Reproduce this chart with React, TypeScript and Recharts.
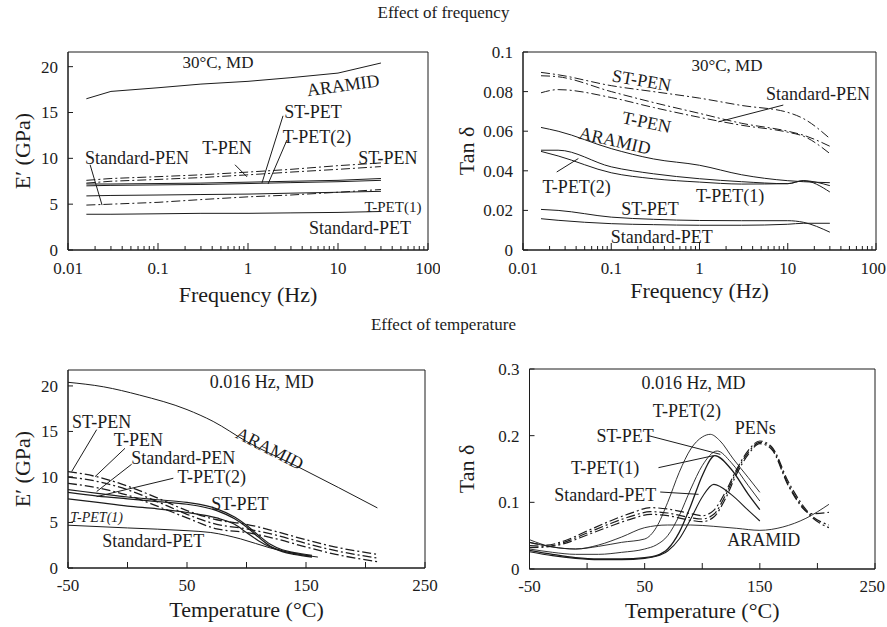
import React from 'react';
import { LineChart, Line, XAxis, YAxis, ReferenceDot, ReferenceLine, ReferenceArea } from 'recharts';

const FONT = 'Liberation Serif';
const INK = '#1c1c1c';
const DASHDOT = '9 3 2 3';
const TICK_SIZE = 17;
const NOTE_SIZE = 18;
const TITLE_SIZE = 22;

// ---------- Panel A: E' vs frequency (30°C, MD) ----------
const freqA = [0.016, 0.03, 0.1, 0.3, 1, 3, 10, 30];
const aramidA = [16.5, 17.3, 17.7, 18.1, 18.4, 18.8, 19.3, 20.4];
const stPenA = [7.6, 7.8, 8.0, 8.2, 8.5, 8.8, 9.2, 9.5];
const tPenA = [7.3, 7.5, 7.7, 7.9, 8.2, 8.5, 8.8, 9.1];
const stPetA = [7.2, 7.2, 7.25, 7.3, 7.4, 7.5, 7.6, 7.8];
const tPet2A = [7.0, 7.05, 7.1, 7.15, 7.25, 7.35, 7.45, 7.6];
const tPet1A = [5.9, 5.95, 6.0, 6.05, 6.1, 6.2, 6.3, 6.4];
const stdPenA = [4.9, 5.0, 5.2, 5.5, 5.8, 6.0, 6.3, 6.6];
const stdPetA = [3.9, 3.9, 3.95, 4.0, 4.0, 4.05, 4.1, 4.2];

// ---------- Panel B: tan δ vs frequency (30°C, MD) ----------
const freqB = [0.016, 0.025, 0.1, 0.3, 1, 3, 10, 15, 30];
const stPenB = [0.0897, 0.0885, 0.083, 0.08, 0.0767, 0.073, 0.0695, 0.0664, 0.0563];
const stdPenB = [0.088, 0.0875, 0.08, 0.0745, 0.069, 0.064, 0.06, 0.058, 0.0524];
const tPenB = [0.0794, 0.081, 0.077, 0.072, 0.067, 0.063, 0.0595, 0.0575, 0.0487];
const aramidB = [0.0619, 0.06, 0.0512, 0.046, 0.0428, 0.038, 0.035, 0.0345, 0.034];
const tPet2B = [0.0504, 0.0504, 0.042, 0.0385, 0.036, 0.0345, 0.0335, 0.035, 0.0325];
const tPet1B = [0.0498, 0.0475, 0.039, 0.036, 0.0343, 0.0333, 0.0335, 0.035, 0.0293];
const stPetB = [0.0205, 0.02, 0.0166, 0.0155, 0.0149, 0.0148, 0.0148, 0.014, 0.009];
const stdPetB = [0.0158, 0.015, 0.0133, 0.0128, 0.0125, 0.0125, 0.013, 0.0135, 0.0135];

// ---------- Panel C: E' vs temperature (0.016 Hz, MD) ----------
const tAramidC = [-50, -20, 10, 50, 72, 100, 145, 210];
const aramidC = [20.4, 19.9, 19.0, 17.4, 16.1, 13.9, 11.0, 6.6];
const tPetC = [-50, -25, 0, 25, 50, 75, 90, 100, 110, 120, 130, 140, 155];
const stPetC = [8.6, 8.2, 7.8, 7.5, 7.2, 6.5, 5.6, 4.7, 3.6, 2.6, 2.0, 1.7, 1.4];
const tPet2C = [8.3, 7.9, 7.6, 7.3, 7.0, 6.3, 5.4, 4.5, 3.4, 2.4, 1.9, 1.6, 1.3];
const tPet1C = [7.6, 7.2, 6.8, 6.5, 6.1, 5.5, 4.8, 3.9, 3.0, 2.3, 1.8, 1.5, 1.2];
const tStdPetC = [-50, 0, 50, 70, 95, 120, 140, 160];
const stdPetC = [4.7, 4.4, 4.1, 3.9, 3.2, 2.2, 1.6, 1.2];
const tPenC = [-50, -25, 0, 25, 50, 75, 100, 125, 150, 175, 210];
const stPenC = [10.6, 10.0, 9.0, 7.7, 6.3, 5.3, 4.8, 4.0, 3.1, 2.3, 1.5];
const tPenSeriesC = [10.0, 9.5, 8.6, 7.3, 5.9, 4.8, 4.3, 3.6, 2.7, 1.9, 1.1];
const stdPenC = [9.3, 8.8, 8.0, 6.8, 5.5, 4.3, 3.9, 3.2, 2.3, 1.5, 0.7];

// ---------- Panel D: tan δ vs temperature (0.016 Hz, MD) ----------
const tAramidD = [-50, -30, -10, 10, 30, 50, 70, 90, 110, 130, 150, 170, 190, 210];
const aramidD = [0.044, 0.033, 0.03, 0.036, 0.048, 0.062, 0.066, 0.066, 0.064, 0.061, 0.058, 0.063, 0.076, 0.097];
const tTPet2D = [-50, -30, -10, 10, 30, 50, 60, 70, 80, 90, 100, 107, 115, 127, 140, 150];
const tPet2D = [0.04, 0.033, 0.03, 0.034, 0.04, 0.045, 0.062, 0.1, 0.145, 0.18, 0.198, 0.202, 0.193, 0.165, 0.137, 0.115];
const tStPetD = [-50, -30, -10, 10, 30, 50, 60, 70, 80, 90, 100, 113, 125, 140, 150];
const stPetD = [0.03, 0.025, 0.022, 0.022, 0.025, 0.03, 0.036, 0.05, 0.08, 0.12, 0.155, 0.177, 0.16, 0.125, 0.102];
const tTPet1D = [-50, -30, -10, 10, 30, 50, 60, 70, 80, 90, 100, 111, 125, 140, 150];
const tPet1D = [0.028, 0.022, 0.017, 0.015, 0.015, 0.017, 0.02, 0.03, 0.055, 0.095, 0.14, 0.17, 0.15, 0.112, 0.089];
const tStdPetD = [-50, -30, -10, 10, 30, 50, 60, 70, 80, 90, 100, 110, 125, 140, 150];
const stdPetD = [0.026, 0.02, 0.016, 0.014, 0.014, 0.016, 0.019, 0.027, 0.045, 0.075, 0.108, 0.127, 0.112, 0.088, 0.072];
const tPenD = [-50, -35, -20, 0, 20, 40, 55, 70, 90, 100, 110, 120, 130, 140, 150, 160, 175, 195, 210];
const stPenD = [0.04, 0.036, 0.042, 0.057, 0.072, 0.085, 0.092, 0.09, 0.083, 0.08, 0.088, 0.115, 0.15, 0.178, 0.192, 0.184, 0.13, 0.08, 0.066];
const tPenSeriesD = [0.035, 0.034, 0.04, 0.054, 0.068, 0.08, 0.086, 0.084, 0.077, 0.075, 0.082, 0.11, 0.147, 0.175, 0.19, 0.182, 0.126, 0.078, 0.062];
const stdPenD = [0.032, 0.033, 0.038, 0.051, 0.064, 0.076, 0.082, 0.08, 0.073, 0.071, 0.078, 0.105, 0.143, 0.172, 0.188, 0.18, 0.124, 0.083, 0.085];

// ---------- Axis ticks ----------
const freqDecades = [0.01, 0.1, 1, 10];
const freqMultipliers = [1, 2, 3, 4, 5, 6, 7, 8, 9];
const freqTicks = [...freqDecades.flatMap((d) => freqMultipliers.map((m) => +(d * m).toPrecision(3))), 100];
const freqMajor = [0.01, 0.1, 1, 10, 100];
const freqLabels = ['0.01', '0.1', '1', '10', '100'];
const modulusTicks = [0, 5, 10, 15, 20];
const tanFreqTicks = [0, 0.02, 0.04, 0.06, 0.08, 0.1];
const tanFreqLabels = ['0', '0.02', '0.04', '0.06', '0.08', '0.1'];
const tempTicks = [-50, 0, 50, 100, 150, 200, 250];
const tempLabels = ['-50', '', '50', '', '150', '', '250'];
const tanTempTicks = [0, 0.1, 0.2, 0.3];
const tanTempLabels = ['0', '0.1', '0.2', '0.3'];

// ---------- Annotations (in data units) ----------
type Note = { text: string; x: number; y: number; angle?: number; size?: number; italic?: boolean };
type Leader = { x1: number; y1: number; x2: number; y2: number };

const notesA: Note[] = [
  { text: '30°C, MD', x: 0.464, y: 20.5, size: 17 },
  { text: 'ARAMID', x: 11.4, y: 18.0, angle: -8 },
  { text: 'ST-PET', x: 5.27, y: 15.1 },
  { text: 'T-PET(2)', x: 5.84, y: 12.35 },
  { text: 'T-PEN', x: 0.584, y: 11.15 },
  { text: 'ST-PEN', x: 35.9, y: 10.05 },
  { text: 'Standard-PEN', x: 0.0584, y: 10.05 },
  { text: 'T-PET(1)', x: 40.8, y: 4.7, size: 15 },
  { text: 'Standard-PET', x: 17.6, y: 2.4 },
];
const leadersA: Leader[] = [
  { x1: 0.0176, y1: 9.3, x2: 0.0239, y2: 4.9 },
  { x1: 0.717, y1: 9.3, x2: 0.975, y2: 7.98 },
  { x1: 2.45, y1: 14.64, x2: 1.43, y2: 7.32 },
  { x1: 2.71, y1: 12.0, x2: 1.67, y2: 7.2 },
];
const notesB: Note[] = [
  { text: '30°C, MD', x: 2.05, y: 0.0934, size: 17 },
  { text: 'ST-PEN', x: 0.221, y: 0.0858, angle: 10 },
  { text: 'Standard-PEN', x: 22, y: 0.0791 },
  { text: 'T-PEN', x: 0.252, y: 0.0647, angle: 12 },
  { text: 'ARAMID', x: 0.11, y: 0.0554, angle: 13 },
  { text: 'T-PET(2)', x: 0.0406, y: 0.0318 },
  { text: 'T-PET(1)', x: 2.22, y: 0.0276 },
  { text: 'ST-PET', x: 0.275, y: 0.0209 },
  { text: 'Standard-PET', x: 0.373, y: 0.0065 },
];
const leadersB: Leader[] = [
  { x1: 8.9, y1: 0.0732, x2: 1.63, y2: 0.0647 },
  { x1: 0.0241, y1: 0.0394, x2: 0.0424, y2: 0.0462 },
];
const notesC: Note[] = [
  { text: '0.016 Hz, MD', x: 112.8, y: 20.5 },
  { text: 'ARAMID', x: 119.7, y: 13.15, angle: 27 },
  { text: 'ST-PEN', x: -21.7, y: 16.1 },
  { text: 'T-PEN', x: 9.1, y: 14.07 },
  { text: 'Standard-PEN', x: 46.9, y: 12.16 },
  { text: 'T-PET(2)', x: 70.8, y: 10.0 },
  { text: 'ST-PET', x: 94.5, y: 7.1 },
  { text: 'T-PET(1)', x: -25.9, y: 5.64, size: 14, italic: true },
  { text: 'Standard-PET', x: 21.7, y: 3.0 },
];
const leadersC: Leader[] = [
  { x1: -25.9, y1: 15.2, x2: -46.9, y2: 10.6 },
  { x1: -2.1, y1: 13.15, x2: -27.3, y2: 10.03 },
  { x1: 3.5, y1: 11.4, x2: -25.9, y2: 8.4 },
  { x1: 38.5, y1: 9.86, x2: -25.9, y2: 7.84 },
];
const notesD: Note[] = [
  { text: '0.016 Hz, MD', x: 92.4, y: 0.28 },
  { text: 'T-PET(2)', x: 86.7, y: 0.237 },
  { text: 'PENs', x: 146, y: 0.212 },
  { text: 'ST-PET', x: 33, y: 0.2 },
  { text: 'T-PET(1)', x: 15.7, y: 0.152 },
  { text: 'Standard-PET', x: 15.7, y: 0.112 },
  { text: 'ARAMID', x: 153.3, y: 0.044 },
];
const leadersD: Leader[] = [
  { x1: 53.3, y1: 0.2, x2: 115.7, y2: 0.172 },
  { x1: 62, y1: 0.152, x2: 109.8, y2: 0.17 },
  { x1: 63.5, y1: 0.1155, x2: 96.8, y2: 0.112 },
];

// ---------- helpers ----------
const pts = (xs: number[], ys: number[]) => xs.map((x, i) => ({ x, y: ys[i] }));

const labelFor = (value: number, ticks: number[], labels: string[]) => {
  const i = ticks.findIndex((t) => Math.abs(t - value) < 1e-9);
  return i >= 0 ? labels[i] : '';
};

type TProps = { x: number; y: number; size: number; anchor?: 'start' | 'middle' | 'end'; italic?: boolean; transform?: string; dy?: string; children: React.ReactNode };
const T = ({ x, y, size, anchor = 'middle', italic, transform, dy, children }: TProps) => (
  <text
    x={x}
    y={y}
    dy={dy}
    textAnchor={anchor}
    fontFamily={FONT}
    fontSize={size}
    fontStyle={italic ? 'italic' : 'normal'}
    fill={INK}
    stroke="none"
    transform={transform}
  >
    {children}
  </text>
);

// lastAtEdge: the final label is right-aligned so it stays inside the page
const makeXTick = (major: number[], labels: string[], majorLen: number, minorLen: number, gap: number, lastAtEdge = false) =>
  (props: any) => {
    const { x, y, payload } = props;
    const lab = labelFor(payload.value, major, labels);
    const isMajor = major.some((t) => Math.abs(t - payload.value) < 1e-9);
    const isLast = Math.abs(payload.value - major[major.length - 1]) < 1e-9;
    const edge = lastAtEdge && isLast;
    return (
      <g>
        <line x1={x} x2={x} y1={y} y2={y - (isMajor ? majorLen : minorLen)} stroke={INK} strokeWidth={1} />
        {lab && (
          <T x={edge ? x + 10 : x} y={y + gap} dy="0.35em" size={TICK_SIZE} anchor={edge ? 'end' : 'middle'}>
            {lab}
          </T>
        )}
      </g>
    );
  };

const makeYTick = (fmt: (v: number) => string) => (props: any) => {
  const { x, y, payload } = props;
  return (
    <g>
      <line x1={x} x2={x + 5} y1={y} y2={y} stroke={INK} strokeWidth={1} />
      <T x={x - 10} y={y} dy="0.35em" anchor="end" size={TICK_SIZE}>{fmt(payload.value)}</T>
    </g>
  );
};

const xTitle = (text: string, dy: number) => (props: any) => {
  const vb = props.viewBox || props;
  return <T x={vb.x + vb.width / 2} y={vb.y + dy} size={TITLE_SIZE}>{text}</T>;
};

const yTitle = (text: string, off: number) => (props: any) => {
  const vb = props.viewBox || props;
  const cx = vb.x + off;
  const cy = vb.y + vb.height / 2;
  return <T x={cx} y={cy} dy="0.35em" size={TITLE_SIZE} transform={`rotate(-90 ${cx} ${cy})`}>{text}</T>;
};

const renderNotes = (notes: Note[]) =>
  notes.map((n, i) => (
    <ReferenceDot
      key={`n${i}`}
      x={n.x}
      y={n.y}
      r={0}
      ifOverflow="visible"
      shape={(p: any) => (
        <T x={p.cx} y={p.cy} dy="0.35em" size={n.size ?? NOTE_SIZE} italic={n.italic}
          transform={n.angle ? `rotate(${n.angle} ${p.cx} ${p.cy})` : undefined}>
          {n.text}
        </T>
      )}
    />
  ));

const renderLeaders = (leaders: Leader[]) =>
  leaders.map((l, i) => (
    <ReferenceLine
      key={`l${i}`}
      segment={[{ x: l.x1, y: l.y1 }, { x: l.x2, y: l.y2 }]}
      stroke={INK}
      strokeWidth={1}
      ifOverflow="visible"
    />
  ));

const series = (data: { x: number; y: number }[], dashed: boolean, key: string, curve: 'linear' | 'monotone', width = 1) => (
  <Line
    key={key}
    data={data}
    dataKey="y"
    type={curve}
    stroke={INK}
    strokeWidth={width}
    strokeDasharray={dashed ? DASHDOT : undefined}
    dot={false}
    activeDot={false}
    isAnimationActive={false}
  />
);

const logTickLeft = makeXTick(freqMajor, freqLabels, 7, 4, 18);
const logTickRight = makeXTick(freqMajor, freqLabels, 7, 4, 18, true);
const tempTickLeft = makeXTick(tempTicks, tempLabels, 6, 6, 17);
const tempTickRight = makeXTick(tempTicks, tempLabels, 6, 6, 17, true);

function PanelA() {
  return (
    <LineChart width={440} height={280} margin={{ top: 12, right: 12, left: 8, bottom: 10 }}>
      <XAxis dataKey="x" type="number" scale="log" domain={[0.01, 100]} allowDataOverflow ticks={freqTicks} interval={0}
        tick={logTickLeft} tickSize={0} tickMargin={0} tickLine={false} axisLine={{ stroke: INK }} height={60}
        label={xTitle('Frequency (Hz)', 52)} />
      <YAxis type="number" domain={[0, 21.6]} allowDataOverflow ticks={modulusTicks} interval={0}
        tick={makeYTick((v) => String(v))} tickSize={0} tickMargin={0} tickLine={false} axisLine={{ stroke: INK }} width={60}
        label={yTitle('E′ (GPa)', 14)} />
      <ReferenceArea x1={0.01} x2={100} y1={0} y2={21.6} fill="none" stroke={INK} strokeWidth={1} ifOverflow="visible" />
      {series(pts(freqA, aramidA), false, 'aramid', 'linear')}
      {series(pts(freqA, stPenA), true, 'stpen', 'linear')}
      {series(pts(freqA, tPenA), true, 'tpen', 'linear')}
      {series(pts(freqA, stPetA), false, 'stpet', 'linear')}
      {series(pts(freqA, tPet2A), false, 'tpet2', 'linear')}
      {series(pts(freqA, tPet1A), false, 'tpet1', 'linear')}
      {series(pts(freqA, stdPenA), true, 'stdpen', 'linear')}
      {series(pts(freqA, stdPetA), false, 'stdpet', 'linear')}
      {renderLeaders(leadersA)}
      {renderNotes(notesA)}
    </LineChart>
  );
}

function PanelB() {
  return (
    <LineChart width={440} height={280} margin={{ top: 12, right: 11, left: 8, bottom: 10 }}>
      <XAxis dataKey="x" type="number" scale="log" domain={[0.01, 100]} allowDataOverflow ticks={freqTicks} interval={0}
        tick={logTickRight} tickSize={0} tickMargin={0} tickLine={false} axisLine={{ stroke: INK }} height={60}
        label={xTitle('Frequency (Hz)', 48)} />
      <YAxis type="number" domain={[0, 0.1]} allowDataOverflow ticks={tanFreqTicks} interval={0}
        tick={makeYTick((v) => labelFor(v, tanFreqTicks, tanFreqLabels))} tickSize={0} tickMargin={0} tickLine={false}
        axisLine={{ stroke: INK }} width={68} label={yTitle('Tan δ', 11)} />
      <ReferenceArea x1={0.01} x2={100} y1={0} y2={0.1} fill="none" stroke={INK} strokeWidth={1} ifOverflow="visible" />
      {series(pts(freqB, stPenB), true, 'stpen', 'monotone')}
      {series(pts(freqB, stdPenB), true, 'stdpen', 'monotone')}
      {series(pts(freqB, tPenB), true, 'tpen', 'monotone')}
      {series(pts(freqB, aramidB), false, 'aramid', 'monotone')}
      {series(pts(freqB, tPet2B), false, 'tpet2', 'monotone')}
      {series(pts(freqB, tPet1B), false, 'tpet1', 'monotone')}
      {series(pts(freqB, stPetB), false, 'stpet', 'monotone')}
      {series(pts(freqB, stdPetB), false, 'stdpet', 'monotone')}
      {renderLeaders(leadersB)}
      {renderNotes(notesB)}
    </LineChart>
  );
}

function PanelC() {
  return (
    <LineChart width={440} height={287} margin={{ top: 30, right: 15, left: 8, bottom: 9 }}>
      <XAxis dataKey="x" type="number" domain={[-50, 250]} allowDataOverflow ticks={tempTicks} interval={0}
        tick={tempTickLeft} tickSize={0} tickMargin={0} tickLine={false} axisLine={{ stroke: INK }} height={50}
        label={xTitle('Temperature (°C)', 49)} />
      <YAxis type="number" domain={[0, 21.75]} allowDataOverflow ticks={modulusTicks} interval={0}
        tick={makeYTick((v) => String(v))} tickSize={0} tickMargin={0} tickLine={false} axisLine={{ stroke: INK }} width={60}
        label={yTitle('E′ (GPa)', 14)} />
      <ReferenceArea x1={-50} x2={250} y1={0} y2={21.75} fill="none" stroke={INK} strokeWidth={1} ifOverflow="visible" />
      {series(pts(tAramidC, aramidC), false, 'aramid', 'monotone')}
      {series(pts(tPenC, stPenC), true, 'stpen', 'monotone', 1.3)}
      {series(pts(tPenC, tPenSeriesC), true, 'tpen', 'monotone', 1.3)}
      {series(pts(tPenC, stdPenC), true, 'stdpen', 'monotone', 1.3)}
      {series(pts(tPetC, stPetC), false, 'stpet', 'monotone', 1.2)}
      {series(pts(tPetC, tPet2C), false, 'tpet2', 'monotone', 1.2)}
      {series(pts(tPetC, tPet1C), false, 'tpet1', 'monotone', 1.2)}
      {series(pts(tStdPetC, stdPetC), false, 'stdpet', 'monotone')}
      {renderLeaders(leadersC)}
      {renderNotes(notesC)}
    </LineChart>
  );
}

function PanelD() {
  return (
    <LineChart width={440} height={287} margin={{ top: 29, right: 12, left: 8, bottom: 10 }}>
      <XAxis dataKey="x" type="number" domain={[-50, 250]} allowDataOverflow ticks={tempTicks} interval={0}
        tick={tempTickRight} tickSize={0} tickMargin={0} tickLine={false} axisLine={{ stroke: INK }} height={48}
        label={xTitle('Temperature (°C)', 49)} />
      <YAxis type="number" domain={[0, 0.3]} allowDataOverflow ticks={tanTempTicks} interval={0}
        tick={makeYTick((v) => labelFor(v, tanTempTicks, tanTempLabels))} tickSize={0} tickMargin={0} tickLine={false}
        axisLine={{ stroke: INK }} width={74.5} label={yTitle('Tan δ', 11)} />
      <ReferenceArea x1={-50} x2={250} y1={0} y2={0.3} fill="none" stroke={INK} strokeWidth={1} ifOverflow="visible" />
      {series(pts(tAramidD, aramidD), false, 'aramid', 'monotone', 0.9)}
      {series(pts(tTPet2D, tPet2D), false, 'tpet2', 'monotone', 0.9)}
      {series(pts(tStPetD, stPetD), false, 'stpet', 'monotone', 0.9)}
      {series(pts(tTPet1D, tPet1D), false, 'tpet1', 'monotone', 1.3)}
      {series(pts(tStdPetD, stdPetD), false, 'stdpet', 'monotone', 1.1)}
      {series(pts(tPenD, stPenD), true, 'stpen', 'monotone', 1.2)}
      {series(pts(tPenD, tPenSeriesD), true, 'tpen', 'monotone', 1.2)}
      {series(pts(tPenD, stdPenD), true, 'stdpen', 'monotone', 1.2)}
      {renderLeaders(leadersD)}
      {renderNotes(notesD)}
    </LineChart>
  );
}

export default function App() {
  return (
    <div style={{ position: 'absolute', left: 0, top: 0, width: 887, height: 627, background: '#fff', fontFamily: FONT, color: INK, overflow: 'hidden' }}>
      <div style={{ position: 'absolute', left: 0, top: 3, width: 887, textAlign: 'center', fontSize: 17 }}>Effect of frequency</div>
      <div style={{ position: 'absolute', left: 0, top: 315, width: 887, textAlign: 'center', fontSize: 17 }}>Effect of temperature</div>
      <div style={{ position: 'absolute', left: 0, top: 40 }}><PanelA /></div>
      <div style={{ position: 'absolute', left: 447, top: 40 }}><PanelB /></div>
      <div style={{ position: 'absolute', left: 0, top: 340 }}><PanelC /></div>
      <div style={{ position: 'absolute', left: 447, top: 340 }}><PanelD /></div>
    </div>
  );
}
